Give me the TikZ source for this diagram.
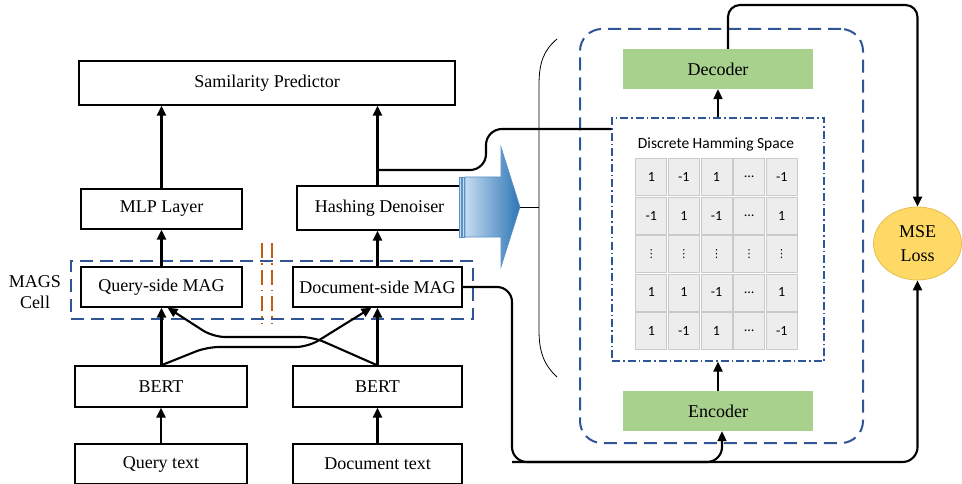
\documentclass[tikz,border=0pt]{standalone}
\usepackage{fontspec}
\setmainfont{Liberation Serif}
\newfontfamily\carl{Carlito}
\newfontfamily\dvs{DejaVu Sans}
\usetikzlibrary{arrows.meta,shapes.geometric,calc}
\definecolor{mblue}{HTML}{2F5597}
\definecolor{morange}{HTML}{C55A11}
\definecolor{mgreen}{HTML}{A9D18E}
\definecolor{mgold}{HTML}{FFD966}
\definecolor{mgoldb}{HTML}{E3BE52}
\definecolor{acl}{HTML}{C5DCF0}
\definecolor{acr}{HTML}{2E75B6}
\definecolor{cellg}{HTML}{EDEDED}
\definecolor{cellb}{HTML}{CACACA}
\newcommand\hsvd{{\dvs\fontsize{11}{12}\selectfont ⋮}}
\begin{document}
\begin{tikzpicture}[x=1pt,y=-1pt,
  box/.style={draw=black, line width=1.2pt, rectangle, inner sep=0pt, font=\fontsize{18}{21}\selectfont},
  gbox/.style={fill=mgreen, rectangle, inner sep=0pt, minimum width=190pt, minimum height=40pt, font=\fontsize{18}{21}\selectfont},
  arr/.style={line width=2.1pt, -{Triangle[length=10pt,width=9pt]}},
  conn/.style={line width=2.1pt},
  cell/.style={rectangle, fill=cellg, draw=cellb, line width=0.8pt, inner sep=0pt, minimum width=31pt, minimum height=37pt, font=\carl\fontsize{14}{16}\selectfont},
  bluedash/.style={draw=mblue, line width=2pt, dash pattern=on 13pt off 7pt},
  dashdot/.style={draw=mblue, line width=1.2pt, dash pattern=on 8pt off 3pt on 1.5pt off 3pt},
  orangedash/.style={draw=morange, line width=1.6pt, dash pattern=on 15pt off 5pt on 1.5pt off 5pt},
]
\useasboundingbox (0,0) rectangle (962,484);

% ---------------- left part ----------------
\node[box, minimum width=376, minimum height=44] (sim) at (267,83) {Samilarity Predictor};
\node[box, minimum width=161, minimum height=40] (mlp) at (161.5,209) {MLP Layer};
\node[box, minimum width=165, minimum height=44] (hash) at (379.5,208) {Hashing Denoiser};

\node[bluedash, rectangle, minimum width=402, minimum height=58, inner sep=0pt] (mags) at (272,290) {};
\node[align=center, font=\fontsize{18}{21}\selectfont] (magslbl) at (35,292) {MAGS\\Cell};
\node[box, minimum width=161, minimum height=40] (qmag) at (161.5,287) {Query-side MAG};
\node[box, minimum width=169, minimum height=40] (dmag) at (377.5,287) {Document-side MAG};

\node[box, minimum width=172, minimum height=41] (bertq) at (161,386.5) {BERT};
\node[box, minimum width=169, minimum height=41] (bertd) at (377.5,386.5) {BERT};
\node[box, minimum width=172, minimum height=40] (qtext) at (161,464) {Query text};
\node[box, minimum width=169, minimum height=40] (dtext) at (377.5,464) {Document text};

% orange separators
\coordinate (o1t) at (262,243); \coordinate (o1b) at (262,324);
\coordinate (o2t) at (272,243); \coordinate (o2b) at (272,324);
\draw[orangedash] (o1t) -- (o1b);
\draw[orangedash] (o2t) -- (o2b);

% vertical arrows
\draw[arr] (qtext.north) -- (bertq.south);
\draw[arr] (dtext.north -| dmag.north) -- (bertd.south -| dmag.north);
\draw[arr] (bertq.north) -- (qmag.south |- bertq.north) -- (qmag.south);
\draw[arr] (bertd.north -| dmag.north) -- (dmag.south);
\draw[arr] (qmag.north) -- (mlp.south);
\draw[arr] (mlp.north) -- (mlp.north |- sim.south);
\draw[arr] (dmag.north) -- (dmag.north |- hash.south);
\draw[arr] (hash.north -| dmag.north) -- (sim.south -| dmag.north);

% crossing arrows
\draw[arr, rounded corners=12pt] (bertq.north) -- (207,347) -- (308,347) -- ([xshift=-6pt]dmag.south);
\draw[arr, rounded corners=12pt] (bertd.north -| dmag.north) -- (313,337) -- (213,337) -- ([xshift=6pt]qmag.south);

% ---------------- right part ----------------
\node[bluedash, rectangle, rounded corners=22pt, minimum width=283, minimum height=414, inner sep=0pt] (ae) at (721.5,236) {};
\node[dashdot, rectangle, minimum width=212, minimum height=243, inner sep=0pt] (hs) at (718,239.5) {};
\node[gbox] (dec) at (718,69) {Decoder};
\node[gbox] (enc) at (718,411) {Encoder};
\node[font=\carl\fontsize{15.5}{18}\selectfont] (hstitle) at (716,145) {Discrete Hamming Space};

\foreach \row [count=\i] in {{1,-1,1,…,-1},{-1,1,-1,…,1},{\hsvd,\hsvd,\hsvd,\hsvd,\hsvd},{1,1,-1,…,1},{1,-1,1,…,-1}} {
  \foreach \v [count=\j] in \row {
    \node[cell] (c\i\j) at ({635+32.6*(\j-0.5)},{158+38.4*(\i-0.5)}) {\v};
  }
}

\node[ellipse, fill=mgold, draw=mgoldb, line width=0.8pt, minimum width=88, minimum height=73, inner sep=0pt, align=center, font=\fontsize{18}{24}\selectfont] (mse) at (917.5,243.5) {MSE\\Loss};

\draw[arr] (enc.north) -- (hs.south);
\draw[arr] (hs.north) -- (dec.south);

% decoder to MSE
\coordinate (topc) at (820,5);
\draw[arr, rounded corners=12pt] ([xshift=10pt]dec.north) |- (topc) -| (mse.north);

% bottom connector
\coordinate (botc) at (512,462);
\draw[arr, rounded corners=15pt] (dmag.east) -| (botc) -| (mse.south);
\draw[arr, rounded corners=15pt] (botc) -| ([xshift=4pt]enc.south);

% bracket
\draw[line width=0.8pt] (557,39) .. controls (544,50) and (539,62) .. (539,85) -- (539,330) .. controls (539,352) and (544,365) .. (557,377);

% block arrow
\path[left color=acl, right color=acr, draw=acr!80, line width=0.6pt] (465,177) -- (501,177) -- (501,147) -- (520,207) -- (501,267) -- (501,237) -- (465,237) -- cycle;
\path[fill=acl, draw=acr!80, line width=0.5pt] (459,177) rectangle (461.5,237);
\path[fill=acl, draw=acr!80, line width=0.5pt] (462.5,177) rectangle (464.5,237);
\coordinate (tip) at (520,207);
\coordinate (brm) at (539,207);
\draw[line width=0.8pt] (tip) -- (brm);

% hashing denoiser to hamming space
\coordinate (hp) at (378,170);
\draw[conn, rounded corners=16pt] (hp) -- (486,170) -- (486,129) -- (hs.west |- 0,129);
\end{tikzpicture}
\end{document}
